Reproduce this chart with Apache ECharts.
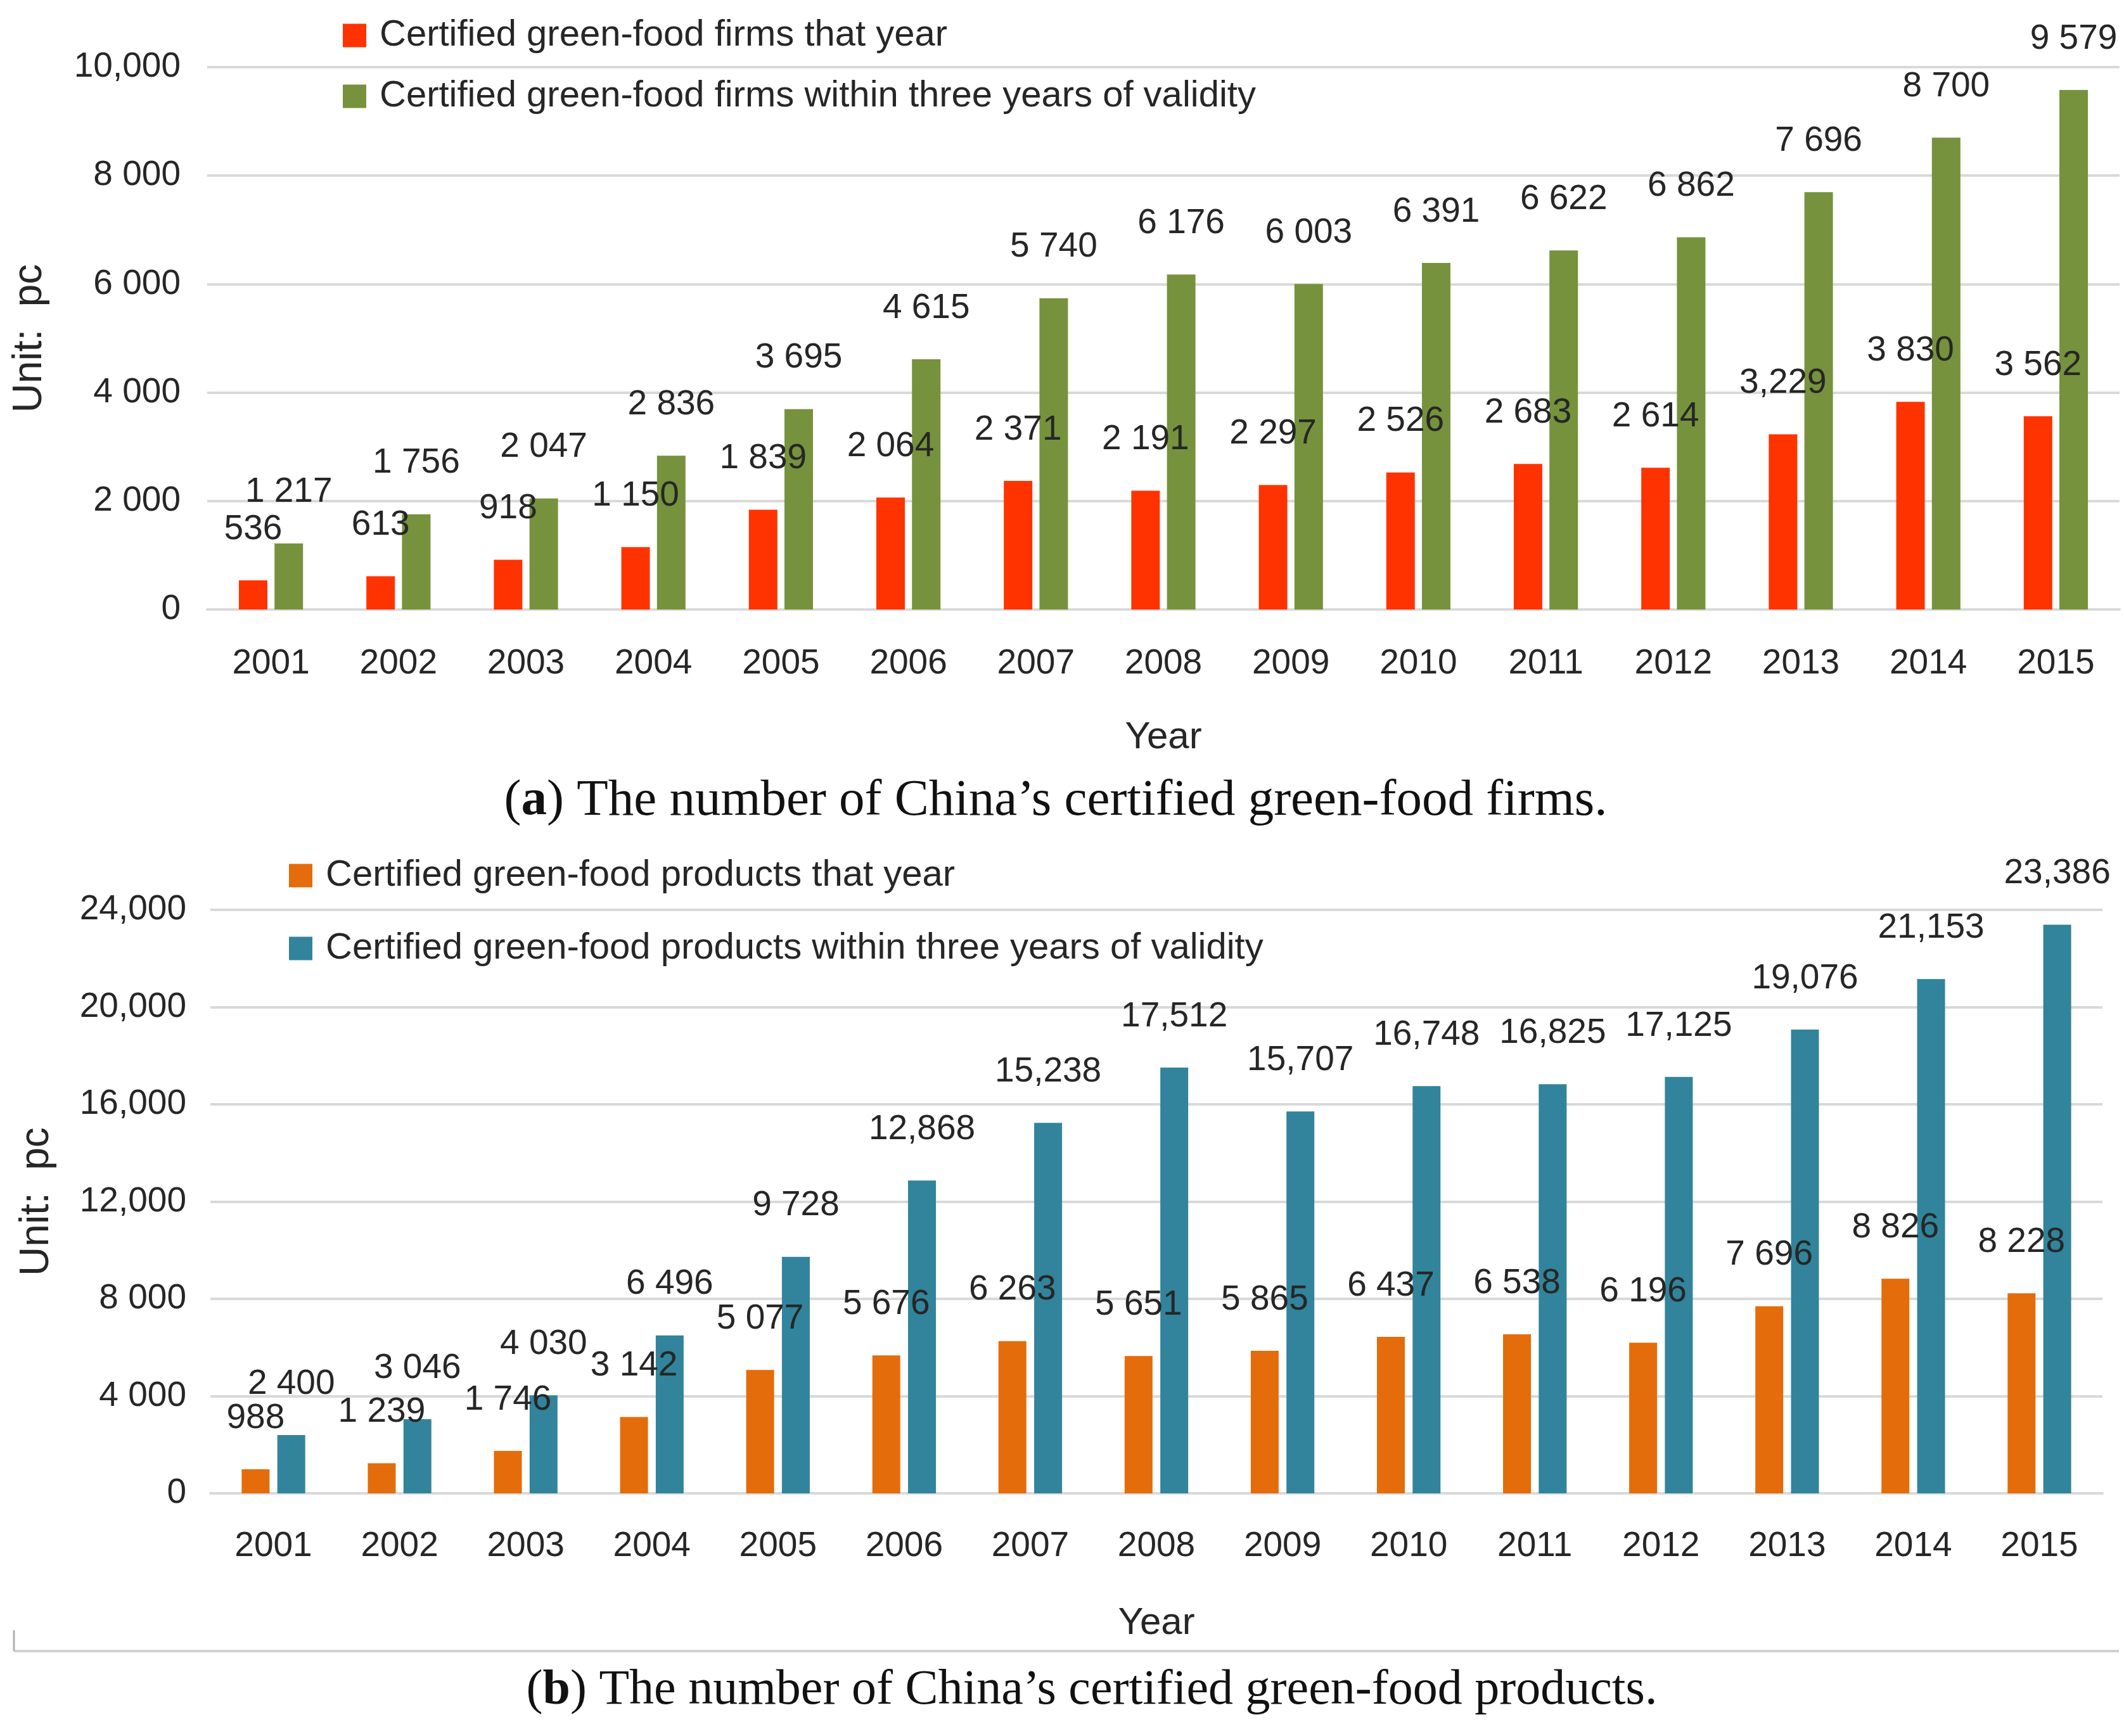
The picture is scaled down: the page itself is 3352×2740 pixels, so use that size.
<!doctype html>
<html>

<head>
    <meta charset="utf-8">
    <title>Certified green-food firms and products</title>
    <script src="https://cdn.jsdelivr.net/npm/echarts@6/dist/echarts.min.js"></script>
    <style>
        html, body { margin: 0; padding: 0; background: #fff; }
    </style>
</head>

<body>
    <div id="container" style="width:3352px;height:2740px;"></div>
    <script type="text/javascript">
        // data
        var years = ['2001', '2002', '2003', '2004', '2005', '2006', '2007', '2008',
            '2009', '2010', '2011', '2012', '2013', '2014', '2015'];
        var firmsThatYear = [536, 613, 918, 1150, 1839, 2064, 2371, 2191, 2297, 2526, 2683, 2614, 3229, 3830, 3562];
        var firmsValid = [1217, 1756, 2047, 2836, 3695, 4615, 5740, 6176, 6003, 6391, 6622, 6862, 7696, 8700, 9579];
        var productsThatYear = [988, 1239, 1746, 3142, 5077, 5676, 6263, 5651, 5865, 6437, 6538, 6196, 7696, 8826, 8228];
        var productsValid = [2400, 3046, 4030, 6496, 9728, 12868, 15238, 17512, 15707, 16748, 16825, 17125, 19076, 21153, 23386];
        // labels printed with a comma instead of a space below 10,000
        var commaLabelYearsFirms = ['2013'];

        var FONT = "'Liberation Sans', Arial, sans-serif";
        var TXT = '#262626';

        function withSep(v, sep) {
            return String(v).replace(/\B(?=(\d{3})+(?!\d))/g, sep);
        }
        // excel style: big numbers get a comma, the rest a space
        function fmt(v) {
            return v >= 10000 ? withSep(v, ',') : withSep(v, ' ');
        }

        var labelStyle = {
            show: true,
            position: 'top',
            distance: 53,
            fontFamily: FONT,
            fontSize: 55,
            color: TXT,
            formatter: function (p) { return fmt(p.value); }
        };

        function legendItem(name, left, top) {
            return {
                data: [name],
                left: left,
                top: top,
                orient: 'vertical',
                itemWidth: 37,
                itemHeight: 37,
                icon: 'rect',
                selectedMode: false,
                textStyle: {
                    fontFamily: FONT,
                    fontSize: 58,
                    lineHeight: 70,
                    color: TXT,
                    padding: [0, 0, 0, 16]
                }
            };
        }

        function yAxisOf(gridIndex, max, step, nameGap, margin) {
            return {
                type: 'value',
                gridIndex: gridIndex,
                min: 0,
                max: max,
                interval: step,
                name: 'Unit:  pc',
                nameLocation: 'middle',
                nameRotate: 90,
                nameGap: nameGap,
                nameMoveOverlap: false,
                nameTextStyle: { fontFamily: FONT, fontSize: 64, color: TXT },
                axisLine: { show: false },
                axisTick: { show: false },
                axisLabel: {
                    margin: margin,
                    fontFamily: FONT,
                    fontSize: 55,
                    color: TXT,
                    formatter: fmt
                },
                splitLine: { lineStyle: { color: '#d9d9d9', width: 4 } }
            };
        }

        function xAxisOf(gridIndex, nameGap, margin) {
            return {
                type: 'category',
                gridIndex: gridIndex,
                data: years,
                name: 'Year',
                nameLocation: 'middle',
                nameGap: nameGap,
                nameMoveOverlap: false,
                nameTextStyle: { fontFamily: FONT, fontSize: 60, color: TXT },
                axisLine: { lineStyle: { color: '#d9d9d9', width: 4 } },
                axisTick: { show: false },
                axisLabel: {
                    margin: margin,
                    fontFamily: FONT,
                    fontSize: 55,
                    color: TXT
                }
            };
        }

        var firmsRed = firmsThatYear.map(function (v, i) {
            if (commaLabelYearsFirms.indexOf(years[i]) >= 0) {
                return { value: v, label: { formatter: withSep(v, ',') } };
            }
            return v;
        });

        function captionStyle(size) {
            return {
                fontFamily: "'Liberation Serif', serif",
                fontSize: size,
                fontWeight: 'normal',
                color: '#111',
                rich: { b: { fontFamily: "'Liberation Serif', serif", fontSize: size, fontWeight: 'bold', color: '#111' } }
            };
        }

        var option = {
            animation: false,
            backgroundColor: '#fff',
            title: [
                {
                    text: '({b|a}) The number of China\u2019s certified green-food firms.',
                    left: 1661,
                    top: 1219,
                    textAlign: 'center',
                    textStyle: captionStyle(81)
                },
                {
                    text: '({b|b}) The number of China\u2019s certified green-food products.',
                    left: 1718,
                    top: 2625,
                    textAlign: 'center',
                    textStyle: captionStyle(78)
                }
            ],
            legend: [
                legendItem('Certified green-food firms that year', 536, 16),
                legendItem('Certified green-food firms within three years of validity', 536, 112),
                legendItem('Certified green-food products that year', 451, 1342),
                legendItem('Certified green-food products within three years of validity', 451, 1457)
            ],
            grid: [
                { left: 327, right: 7, top: 106, height: 856, outerBoundsMode: 'none', containLabel: false },
                { left: 332, right: 34, top: 1436, height: 921, outerBoundsMode: 'none', containLabel: false }
            ],
            xAxis: [
                xAxisOf(0, 172, 58),
                xAxisOf(1, 175, 56)
            ],
            yAxis: [
                yAxisOf(0, 10000, 2000, 248, 42),
                yAxisOf(1, 24000, 4000, 242, 38)
            ],
            series: [
                {
                    name: 'Certified green-food firms that year',
                    type: 'bar',
                    xAxisIndex: 0,
                    yAxisIndex: 0,
                    barWidth: 45,
                    barGap: '25%',
                    itemStyle: { color: '#ff3300' },
                    label: labelStyle,
                    data: firmsRed
                },
                {
                    name: 'Certified green-food firms within three years of validity',
                    type: 'bar',
                    xAxisIndex: 0,
                    yAxisIndex: 0,
                    barWidth: 45,
                    itemStyle: { color: '#76923c' },
                    label: labelStyle,
                    data: firmsValid
                },
                {
                    name: 'Certified green-food products that year',
                    type: 'bar',
                    xAxisIndex: 1,
                    yAxisIndex: 1,
                    barWidth: 44,
                    barGap: '28%',
                    itemStyle: { color: '#e46c0a' },
                    label: labelStyle,
                    data: productsThatYear
                },
                {
                    name: 'Certified green-food products within three years of validity',
                    type: 'bar',
                    xAxisIndex: 1,
                    yAxisIndex: 1,
                    barWidth: 44,
                    itemStyle: { color: '#31849b' },
                    label: labelStyle,
                    data: productsValid
                }
            ],
            // frame line under panel (b)
            graphic: [
                {
                    type: 'line',
                    shape: { x1: 22, y1: 2606, x2: 3344, y2: 2606 },
                    style: { stroke: '#d0d0d0', lineWidth: 4 }
                },
                {
                    type: 'line',
                    shape: { x1: 22, y1: 2573, x2: 22, y2: 2606 },
                    style: { stroke: '#b0b0b0', lineWidth: 3 }
                }
            ]
        };

        var myChart = echarts.init(document.getElementById('container'));
        myChart.setOption(option);
    </script>
</body>

</html>
